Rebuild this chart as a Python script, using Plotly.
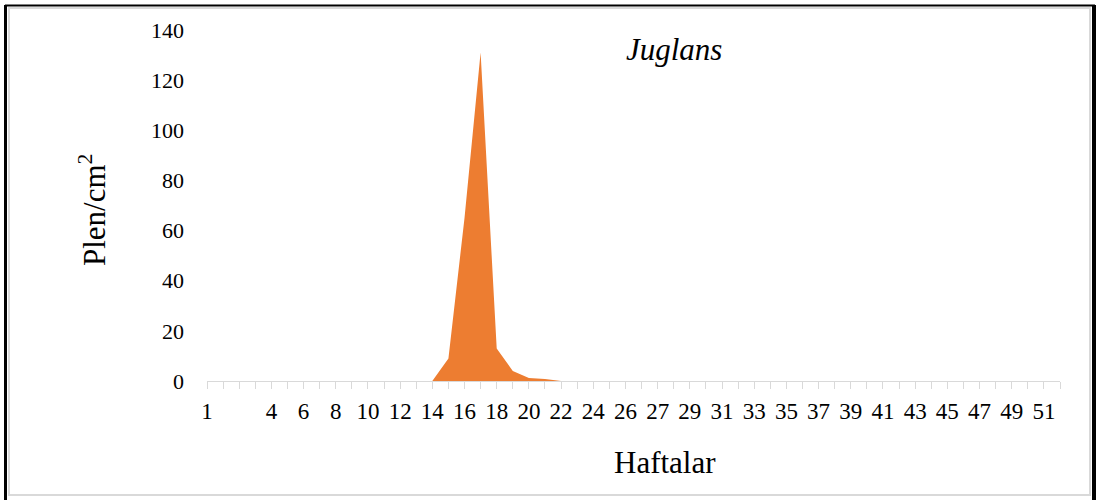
import plotly.graph_objects as go

# Category labels (weeks) as they appear on the axis (every 2nd shown)
week_labels = (["1", "2", "", "3"] + [str(w) for w in range(4, 27)] + [""]
               + [str(w) for w in range(27, 53)])
# Pollen counts (Plen/cm2) per category
values = [0] * len(week_labels)
peak_idx = [14, 15, 16, 17, 18, 19, 20, 21, 22]
peak_vals = [0, 9, 65, 131, 13, 4, 1.2, 0.8, 0]
for i, v in zip(peak_idx, peak_vals):
    values[i] = v

y_ticks = [0, 20, 40, 60, 80, 100, 120, 140]

x_pos = list(range(len(week_labels)))
tick_text = [lab if i % 2 == 0 else "" for i, lab in enumerate(week_labels)]

FONT = "Liberation Serif, Times New Roman, serif"

L, R, T, B = 207, 1060, 30, 381
PW, PH = R - L, B - T


def px(x):
    return (x - L) / PW


def py(y):
    return (B - y) / PH


fig = go.Figure()
fig.add_trace(go.Scatter(
    x=x_pos, y=values, mode="lines", fill="tozeroy",
    line=dict(color="#ED7D31", width=0), fillcolor="#ED7D31",
    hoverinfo="x+y", showlegend=False,
))

fig.update_layout(
    width=1098, height=500,
    margin=dict(l=L, r=1098 - R, t=T, b=500 - B),
    paper_bgcolor="white", plot_bgcolor="white",
    font=dict(family=FONT, color="black", size=22),
    xaxis=dict(
        range=[0, len(week_labels) - 1],
        tickmode="array", tickvals=x_pos, ticktext=tick_text,
        ticks="outside", ticklen=7, tickcolor="#D9D9D9", tickwidth=1,
        showline=True, linecolor="#D9D9D9", linewidth=1,
        showgrid=False, zeroline=False, tickangle=0,
        tickfont=dict(size=23, family=FONT),
        ticklabelstandoff=2,
    ),
    yaxis=dict(
        range=[0, 140], tickmode="array", tickvals=y_ticks,
        showgrid=False, zeroline=False, showline=False,
        ticks="", ticklabelstandoff=22,
        tickfont=dict(size=22, family=FONT),
    ),
    shapes=[
        # outer black frame
        dict(type="line", xref="paper", yref="paper", layer="above",
             x0=px(5.5), x1=px(5.5), y0=py(500), y1=py(5),
             line=dict(color="black", width=3)),
        dict(type="line", xref="paper", yref="paper", layer="above",
             x0=px(5), x1=px(1095), y0=py(5.5), y1=py(5.5),
             line=dict(color="black", width=2)),
        dict(type="line", xref="paper", yref="paper", layer="above",
             x0=px(1094), x1=px(1094), y0=py(500), y1=py(5),
             line=dict(color="black", width=4)),
        # inner grey frame
        dict(type="rect", xref="paper", yref="paper", layer="above",
             x0=px(9), x1=px(1090), y0=py(495), y1=py(8),
             line=dict(color="#D9D9D9", width=2)),
    ],
    annotations=[
        dict(text="<i>Juglans</i>", xref="paper", yref="paper",
             x=px(674), y=py(50), xanchor="center", yanchor="middle",
             showarrow=False, font=dict(size=31, family=FONT)),
        dict(text="Haftalar", xref="paper", yref="paper",
             x=px(665), y=py(462), xanchor="center", yanchor="middle",
             showarrow=False, font=dict(size=31, family=FONT)),
        dict(text="Plen/cm<sup>2</sup>", xref="paper", yref="paper",
             x=px(93), y=py(210), xanchor="center", yanchor="middle",
             textangle=-90,
             showarrow=False, font=dict(size=31, family=FONT)),
    ],
)

fig.write_html(
    "out.html",
    config={"displayModeBar": False},
    post_script="document.body.style.margin='0';document.body.style.overflow='hidden';",
)
